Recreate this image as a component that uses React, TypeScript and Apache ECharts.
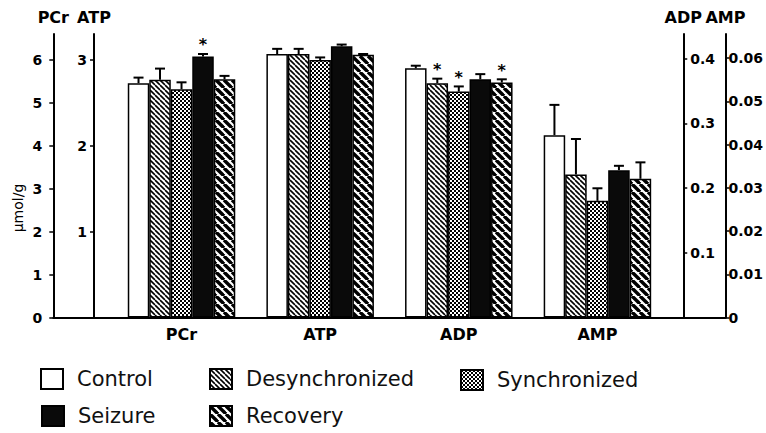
import React, { useEffect, useRef } from "react";
import * as echarts from "echarts";

const categories = ["PCr", "ATP", "ADP", "AMP"];
const conditions = ["Control", "Desynchronized", "Synchronized", "Seizure", "Recovery"];

// values per metabolite, in condition order
const pcrValues = [5.46, 5.54, 5.32, 6.08, 5.55];
const pcrErrors = [0.13, 0.26, 0.16, 0.06, 0.08];
const pcrSig = [0, 0, 0, 1, 0];

const atpValues = [3.07, 3.07, 3.0, 3.16, 3.06];
const atpErrors = [0.06, 0.06, 0.03, 0.02, 0.01];
const atpSig = [0, 0, 0, 0, 0];

const adpValues = [0.385, 0.362, 0.349, 0.368, 0.363];
const adpErrors = [0.004, 0.007, 0.008, 0.008, 0.005];
const adpSig = [0, 1, 1, 0, 1];

const ampValues = [0.0422, 0.0331, 0.027, 0.0341, 0.0321];
const ampErrors = [0.007, 0.0082, 0.0029, 0.001, 0.0038];
const ampSig = [0, 0, 0, 0, 0];

const pcrTicks = [0, 1, 2, 3, 4, 5, 6];
const atpTicks = [1, 2, 3];
const adpTicks = [0.1, 0.2, 0.3, 0.4];
const ampTicks = [0, 0.01, 0.02, 0.03, 0.04, 0.05, 0.06];

const FONT = "DejaVu Sans";
const BAR_W = 21.5;

function hatch(size: number, lw: number) {
  const c = document.createElement("canvas");
  c.width = size;
  c.height = size;
  const g = c.getContext("2d")!;
  g.fillStyle = "#fff";
  g.fillRect(0, 0, size, size);
  g.strokeStyle = "#000";
  g.lineWidth = lw;
  for (const k of [-size, 0, size]) {
    g.beginPath();
    g.moveTo(k, 0);
    g.lineTo(k + size, size);
    g.stroke();
  }
  return c;
}

function checker() {
  const c = document.createElement("canvas");
  c.width = 4;
  c.height = 4;
  const g = c.getContext("2d")!;
  g.fillStyle = "#fff";
  g.fillRect(0, 0, 4, 4);
  g.fillStyle = "#000";
  g.fillRect(0, 0, 2, 2);
  g.fillRect(2, 2, 2, 2);
  return c;
}

export default function App() {
  const ref = useRef<HTMLDivElement>(null);
  useEffect(() => {
    if (!ref.current) return;
    const chart = echarts.init(ref.current, undefined, { renderer: "svg" });

    const fills: any[] = [
      "#ffffff",
      { image: hatch(5, 1.6), repeat: "repeat" },
      { image: checker(), repeat: "repeat" },
      "#0a0a0a",
      { image: hatch(8, 3.4), repeat: "repeat" },
    ];

    const groups = [
      { vals: pcrValues, errs: pcrErrors, sig: pcrSig },
      { vals: atpValues, errs: atpErrors, sig: atpSig },
      { vals: adpValues, errs: adpErrors, sig: adpSig },
      { vals: ampValues, errs: ampErrors, sig: ampSig },
    ];

    const series: any[] = [];
    conditions.forEach((cond, c) => {
      groups.forEach((grp, m) => {
        series.push({
          type: "bar",
          name: cond,
          stack: cond,
          xAxisIndex: 0,
          yAxisIndex: m,
          barWidth: BAR_W,
          barGap: "0%",
          data: categories.map((_, i) => (i === m ? grp.vals[c] : "-")),
          itemStyle: { color: fills[c], borderColor: "#000", borderWidth: 1.5 },
          emphasis: { disabled: true },
        });
      });
    });

    groups.forEach((grp, m) => {
      series.push({
        type: "custom",
        xAxisIndex: 0,
        yAxisIndex: m,
        z: 5,
        encode: { x: 0, y: 1 },
        data: conditions.map((_, c) => [m, grp.vals[c], grp.errs[c], c, grp.sig[c]]),
        renderItem: (params: any, api: any) => {
          const cat = api.value(0);
          const v = api.value(1);
          const e = api.value(2);
          const c = api.value(3);
          const s = api.value(4);
          const base = api.coord([cat, v]);
          const top = api.coord([cat, v + e]);
          const x = base[0] + (c - 2) * BAR_W;
          const children: any[] = [
            {
              type: "line",
              shape: { x1: x, y1: base[1], x2: x, y2: top[1] },
              style: { stroke: "#000", lineWidth: 2 },
            },
            {
              type: "line",
              shape: { x1: x - 5, y1: top[1], x2: x + 5, y2: top[1] },
              style: { stroke: "#000", lineWidth: 2 },
            },
          ];
          if (s) {
            children.push({
              type: "text",
              x: x,
              y: top[1] - 1,
              style: {
                text: "*",
                fill: "#000",
                font: `bold 16px "${FONT}"`,
                textAlign: "center",
                textVerticalAlign: "bottom",
              },
            });
          }
          return { type: "group", children };
        },
      });
    });

    const axisLabelStyle = {
      fontFamily: FONT,
      fontWeight: "bold",
      fontSize: 14,
      color: "#000",
    };
    const nameStyle = {
      fontFamily: FONT,
      fontWeight: "bold",
      fontSize: 16,
      color: "#000",
    };
    const fmt = (v: number) => (v === 0 ? "0" : String(+Number(v).toFixed(3)));

    const mkY = (
      name: string,
      pos: string,
      offset: number,
      max: number,
      ticks: number[],
      margin: number
    ) => ({
      type: "value",
      gridIndex: 1,
      position: pos,
      offset,
      min: 0,
      max,
      name,
      nameLocation: "end",
      nameGap: 9,
      nameTextStyle: nameStyle,
      axisLine: { show: true, onZero: false, lineStyle: { color: "#000", width: 2 } },
      axisTick: {
        show: true,
        length: 4,
        customValues: ticks,
        lineStyle: { color: "#000", width: 1.5 },
      },
      axisLabel: { ...axisLabelStyle, margin, customValues: ticks, formatter: fmt },
      splitLine: { show: false },
    });

    const legendItem = (name: string, left: number, top: number) => ({
      orient: "horizontal",
      left,
      top,
      padding: 0,
      itemWidth: 22,
      itemHeight: 20,
      icon: "rect",
      selectedMode: false,
      data: [name],
      textStyle: {
        fontFamily: FONT,
        fontSize: 21,
        color: "#111",
        padding: [0, 0, 0, 9],
      },
    });

    chart.setOption({
      animation: false,
      backgroundColor: "#fff",
      grid: [
        { left: 53.3, right: 40.5, top: 34, bottom: 115.5 },
        { left: 112.2, right: 99.2, top: 34, bottom: 115.5 },
      ],
      xAxis: [
        {
          type: "category",
          gridIndex: 1,
          data: categories,
          axisLine: { show: false },
          axisTick: { show: false },
          axisLabel: { ...axisLabelStyle, fontSize: 16, margin: 9 },
        },
        {
          type: "value",
          gridIndex: 0,
          min: 0,
          max: 1,
          axisLine: { show: true, lineStyle: { color: "#000", width: 2 } },
          axisTick: { show: false },
          axisLabel: { show: false },
          splitLine: { show: false },
        },
      ],
      yAxis: [
        mkY("PCr", "left", 58.9, 6.606, pcrTicks, 11),
        mkY("ATP", "left", 18.2, 3.303, atpTicks, 7),
        mkY("ADP", "right", 16.5, 0.438, adpTicks, 7),
        mkY("AMP", "right", 58.7, 0.0656, ampTicks, 3),
        {
          type: "value",
          gridIndex: 0,
          show: false,
          min: 0,
          max: 1,
        },
      ],
      legend: [
        legendItem("Control", 40, 368),
        legendItem("Desynchronized", 209, 368),
        legendItem("Synchronized", 460, 369),
        legendItem("Seizure", 41, 405),
        legendItem("Recovery", 209, 405),
      ],
      graphic: [
        {
          type: "text",
          x: 18,
          y: 208,
          rotation: Math.PI / 2,
          style: {
            text: "μmol/g",
            fill: "#000",
            font: `14px "${FONT}"`,
            textAlign: "center",
            textVerticalAlign: "middle",
          },
        },
      ],
      series,
    });

    return () => chart.dispose();
  }, []);

  return (
    <div
      ref={ref}
      style={{ position: "fixed", left: 0, top: 0, width: 766, height: 433 }}
    />
  );
}
